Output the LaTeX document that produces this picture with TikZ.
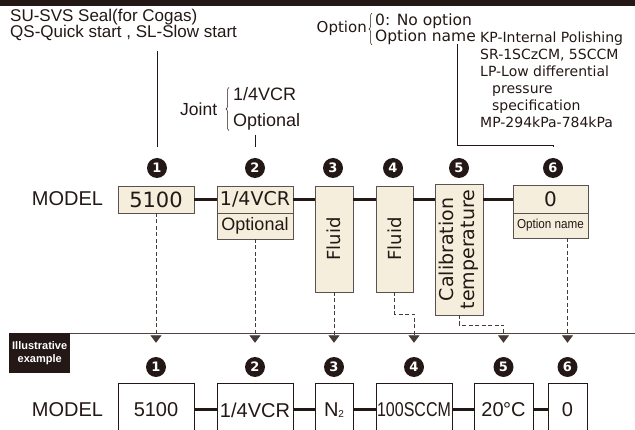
\documentclass[tikz,border=0pt]{standalone}
\usepackage{fontspec}
\setmainfont{Liberation Sans}
\newfontfamily\jfont{DejaVu Sans}
\newcommand{\fsz}[2]{\fontsize{#1}{#2}\selectfont}
\usetikzlibrary{positioning, arrows.meta, decorations.pathreplacing, calc}
\definecolor{ink}{HTML}{231815}
\definecolor{cream}{HTML}{F6EEDC}

\begin{document}
\begin{tikzpicture}[x=1pt, y=-1pt,
    spec/.style={draw=ink!75, fill=cream, line width=0.9pt, outer sep=0pt, inner sep=0pt, align=center, text=ink, font=\jfont\fsz{19}{22}},
    pick/.style={draw=ink, fill=white, line width=0.9pt, outer sep=0pt, inner sep=0pt, minimum height=54pt, text=ink, font=\fsz{20}{24}},
    badge/.style={circle, fill=ink, text=white, minimum size=20pt, inner sep=0pt, font=\jfont\bfseries\fsz{13}{13}},
    link/.style={draw=ink, line width=3pt},
    guide/.style={draw=ink!85, line width=0.8pt, dash pattern=on 4pt off 2.5pt, -{Triangle[width=11pt, length=7.5pt]}, shorten >=14pt},
    lead/.style={draw=ink, line width=0.8pt},
    note/.style={text=ink, inner sep=0pt, anchor=west, align=left},
    every node/.style={text=ink}
]
\useasboundingbox (0,0) rectangle (635,430);
\fill[ink] (0,0) rectangle (635,6);

% Notes above
\node[note, font=\fsz{17}{14.5}] (sealnote) at (10,25) {SU-SVS Seal(for Cogas)\\QS-Quick start , SL-Slow start};
\node[note, font=\fsz{17.5}{21}] (jointlbl) at (180,109) {Joint};
\node[note, font=\fsz{18}{26}] (jointopts) at (233,109) {1/4VCR\\Optional};
\draw[lead, line width=0.5pt, decorate, decoration={brace, amplitude=3pt}]
    ([xshift=-4pt]jointopts.south west) -- ([xshift=-4pt]jointopts.north west);
\node[note, anchor=east, font=\jfont\fsz{15}{16}] (optlbl) at (367,28) {Option};
\node[note, font=\jfont\fsz{15.5}{16}] (optitems) at (375,29) {0: No option\\Option name};
\draw[lead, line width=0.5pt, decorate, decoration={brace, amplitude=3pt}]
    ([xshift=-3pt]optitems.south west) -- ([xshift=-3pt]optitems.north west);
\node[note, font=\jfont\fsz{14}{17}] (optlist) at (480,80) {KP-Internal Polishing\\SR-1SCzCM, 5SCCM\\LP-Low differential\\\hspace*{12pt}pressure\\\hspace*{12pt}specification\\MP-294kPa-784kPa};
\coordinate (optfoot) at (457,44);

% Code row
\node[font=\fsz{20}{24}] (modeltop) at (67.5,199) {MODEL};
\node[spec, minimum width=76pt, minimum height=27pt, font=\jfont\fsz{21}{22}] (sel1) at (156,199.5) {5100};
\node[spec, minimum width=76pt, minimum height=27pt, right=23pt of sel1] (sel2) {1/4VCR};
\node[spec, minimum width=76pt, minimum height=26pt, below=0pt of sel2, font=\fsz{18}{20}] (sel2b) {Optional};
\node[spec, rotate=90, minimum width=106pt, minimum height=38pt, font=\jfont\fsz{18}{20}] (sel3) at (334,239) {Fluid};
\node[spec, rotate=90, minimum width=106pt, minimum height=37pt, font=\jfont\fsz{18}{20}] (sel4) at (394.5,239) {Fluid};
\node[spec, rotate=90, minimum width=131pt, minimum height=48pt, font=\jfont\fsz{19}{21}] (sel5) at (459,249.5) {Calibration\\temperature};
\node[spec, minimum width=75pt, minimum height=28pt, font=\jfont\fsz{20}{22}] (sel6) at (550.5,199) {0};
\node[spec, minimum width=75pt, minimum height=25pt, below=0pt of sel6, font=\fsz{13}{14}] (sel6b) {\scalebox{0.9}[1]{Option name}};

\draw[link] (sel1.east) -- (sel2.west);
\draw[link] (sel2.east) -- (sel2.east -| sel3.north);
\draw[link] (sel3.south |- sel1.east) -- (sel4.north |- sel1.east);
\draw[link] (sel4.south |- sel1.east) -- (sel5.north |- sel1.east);
\draw[link] (sel5.south |- sel1.east) -- (sel6.west |- sel1.east);

\foreach \i/\x in {1/157, 2/255, 3/333, 4/393, 5/459, 6/553}
    \node[badge] (n\i) at (\x,168) {\i};

\draw[lead, shorten <=10pt, shorten >=11pt] (n1 |- sealnote.south) -- (n1.north);
\draw[lead, shorten <=4pt, shorten >=11pt] (n2 |- jointopts.south) -- (n2.north);
\draw[lead, shorten >=11pt] (optfoot) -- ++(0,101) -| (n6.north);

% Illustrative example
\node[fill=ink, text=white, minimum width=61pt, minimum height=40pt, anchor=north west, inner sep=0pt, align=center, font=\bfseries\fsz{11}{13}] (sample) at (9,333) {Illustrative\\example};
\coordinate (rimR) at (635,333);
\draw[ink!80, line width=0.7pt] (sample.north east) -- (rimR);

\node[font=\fsz{20}{24}] (modelbot) at (67.5,410) {MODEL};
\node[pick, minimum width=76pt] (p1) at (156,410) {5100};
\node[pick, minimum width=76pt, right=23pt of p1] (p2) {1/4VCR};
\node[pick, minimum width=38pt, right=22pt of p2] (p3) {N\raisebox{-1pt}{\fsz{10}{10}2}};
\node[pick, minimum width=76pt, right=23pt of p3] (p4) {\scalebox{0.8}[1]{100SCCM}};
\node[pick, minimum width=59pt, right=22pt of p4] (p5) {20\kern-0.5pt°C};
\node[pick, minimum width=39pt, right=15pt of p5] (p6) {0};

\draw[link] (p1.east) -- (p2.west);
\draw[link] (p2.east) -- (p3.west);
\draw[link] (p3.east) -- (p4.west);
\draw[link] (p4.east) -- (p5.west);
\draw[link] (p5.east) -- (p6.west);

\foreach \i in {1,...,6}
    \node[badge] (e\i) at (p\i |- 0,367) {\i};

% Dashed guides
\draw[guide] (sel1.south) -- (e1.north);
\draw[guide] (sel2b.south) -- (e2.north);
\draw[guide] (sel3.west) -- (e3.north);
\draw[guide] (sel4.west) -- ++(0,22) -| (e4.north);
\draw[guide] (sel5.west) -- ++(0,10) -| (e5.north);
\draw[guide] (sel6b.south -| e6) -- (e6.north);

\end{tikzpicture}
\end{document}
